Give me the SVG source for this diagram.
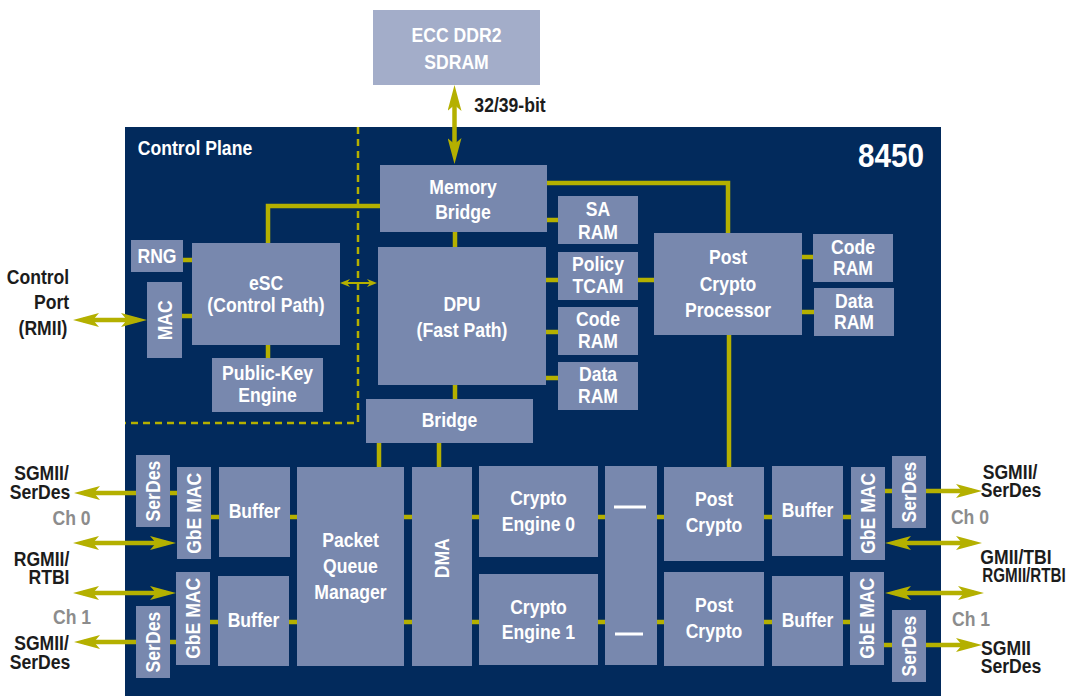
<svg xmlns="http://www.w3.org/2000/svg" width="1068" height="696" viewBox="0 0 1068 696">
<defs>
<style>
.bg{fill:#022a5c}
.b{fill:#7888ae}
.e{fill:#a3adc9}
.c{fill:none;stroke:#b4b000;stroke-width:4.5}
.a{fill:none;stroke:#b4b000;stroke-width:4.5}
.d{fill:none;stroke:#b4b000;stroke-width:2.5;stroke-dasharray:7 5}
.s{fill:none;stroke:#b4b000;stroke-width:2}
.dash{stroke:#ffffff;stroke-width:3}
text{font-family:"Liberation Sans",Arial,sans-serif;font-weight:700;font-size:20px;text-anchor:middle;transform-box:fill-box;transform-origin:center;transform:scaleX(0.88)}
.w{fill:#ffffff}
.k{fill:#1c1c1c}
.g{fill:#8c8c8c}
.v{transform:rotate(-90deg) scaleX(0.88)}
.n{transform:scaleX(0.76)}
.big{font-size:33px;transform:scaleX(0.9)}
</style>
<marker id="ah" viewBox="0 0 26 14" markerWidth="26" markerHeight="14" markerUnits="userSpaceOnUse" refX="16" refY="7" orient="auto-start-reverse">
<path d="M0,0 L26,7 L0,14 L6,7 Z" fill="#b4b000"/>
</marker>
<marker id="as" viewBox="0 0 10 8" markerWidth="10" markerHeight="8" markerUnits="userSpaceOnUse" refX="6" refY="4" orient="auto-start-reverse">
<path d="M0,0 L10,4 L0,8 L3,4 Z" fill="#b4b000"/>
</marker>
</defs>

<rect id="chip" class="bg" x="125" y="127" width="816" height="569"/>

<g id="connectors">
<path class="d" d="M358,127 V423 H125"/>
<path class="c" d="M380,206 H268 V243"/>
<path class="c" d="M268,345 V358"/>
<path class="c" d="M547,183 H728 V233"/>
<path class="c" d="M547,220 H558"/>
<path class="c" d="M455,232 V247"/>
<path class="c" d="M546,280 H558 M638,280 H654"/>
<path class="c" d="M546,332 H558"/>
<path class="c" d="M546,378 H558"/>
<path class="c" d="M802,257 H813 M802,312 H814"/>
<path class="c" d="M729,335 V467"/>
<path class="c" d="M183,260 H192 M182,316 H192"/>
<path class="c" d="M455,385 V399"/>
<path class="c" d="M379,443 V467 M439,443 V467"/>
<path class="c" d="M211,517 H219 M290,517 H297 M404,517 H412 M472,517 H479 M598,517 H605 M657,517 H664 M764,517 H772 M843,517 H851"/>
<path class="c" d="M210,622 H218 M289,622 H297 M404,622 H412 M472,622 H479 M598,622 H605 M657,622 H664 M764,622 H772 M843,622 H850"/>
<path class="c" d="M170,493 H177 M170,642 H176 M885,491 H892 M884,645 H892"/>
<path class="s" d="M344,283 H373" marker-start="url(#as)" marker-end="url(#as)"/>
<path class="a" d="M454.5,95 V154" marker-start="url(#ah)" marker-end="url(#ah)"/>
<path class="a" d="M83,320 H137" marker-start="url(#ah)" marker-end="url(#ah)"/>
<path class="a" d="M136,493 H84" marker-end="url(#ah)"/>
<path class="a" d="M83,543 H166" marker-start="url(#ah)" marker-end="url(#ah)"/>
<path class="a" d="M83,593 H166" marker-start="url(#ah)" marker-end="url(#ah)"/>
<path class="a" d="M136,642 H84" marker-end="url(#ah)"/>
<path class="a" d="M926,491 H972" marker-end="url(#ah)"/>
<path class="a" d="M895,543 H972" marker-start="url(#ah)" marker-end="url(#ah)"/>
<path class="a" d="M895,593 H974" marker-start="url(#ah)" marker-end="url(#ah)"/>
<path class="a" d="M926,645 H972" marker-end="url(#ah)"/>
</g>

<g id="labels">
<text class="k" x="510" y="112">32/39-bit</text>
<text class="w" x="195" y="155">Control Plane</text>
<text class="w big" x="891" y="167">8450</text>
<text class="k" x="38" y="284">Control</text>
<text class="k" x="51.5" y="309">Port</text>
<text class="k" x="43" y="335">(RMII)</text>
<text class="k" x="41.5" y="480">SGMII/</text>
<text class="k" x="40" y="499">SerDes</text>
<text class="g" x="71.5" y="525">Ch 0</text>
<text class="k" x="41.5" y="566">RGMII/</text>
<text class="k" x="49" y="584">RTBI</text>
<text class="g" x="72" y="624">Ch 1</text>
<text class="k" x="41.5" y="650">SGMII/</text>
<text class="k" x="40" y="669">SerDes</text>
<text class="k" x="1010" y="479">SGMII/</text>
<text class="k" x="1011" y="497">SerDes</text>
<text class="g" x="970" y="524">Ch 0</text>
<text class="k" x="1016" y="564">GMII/TBI</text>
<text class="k n" x="1024" y="582">RGMII/RTBI</text>
<text class="g" x="971" y="626">Ch 1</text>
<text class="k" x="1006" y="655">SGMII</text>
<text class="k" x="1011" y="673">SerDes</text>
</g>

<g id="ecc"><rect class="e" x="373" y="10" width="167" height="75"/><text class="w" x="456.5" y="42">ECC DDR2</text><text class="w" x="456.5" y="69">SDRAM</text></g>
<g id="membridge"><rect class="b" x="380" y="165" width="167" height="67"/><text class="w" x="463" y="194">Memory</text><text class="w" x="463" y="219">Bridge</text></g>
<g id="saram"><rect class="b" x="558" y="196" width="80" height="48"/><text class="w" x="598" y="216">SA</text><text class="w" x="598" y="239">RAM</text></g>
<g id="tcam"><rect class="b" x="558" y="252" width="80" height="48"/><text class="w" x="598" y="271">Policy</text><text class="w" x="598" y="293">TCAM</text></g>
<g id="coderam1"><rect class="b" x="558" y="307" width="80" height="48"/><text class="w" x="598" y="326">Code</text><text class="w" x="598" y="348">RAM</text></g>
<g id="dataram1"><rect class="b" x="558" y="362" width="80" height="48"/><text class="w" x="598" y="381">Data</text><text class="w" x="598" y="403">RAM</text></g>
<g id="dpu"><rect class="b" x="378" y="247" width="168" height="138"/><text class="w" x="462" y="311">DPU</text><text class="w" x="462" y="337">(Fast Path)</text></g>
<g id="pcp"><rect class="b" x="654" y="233" width="148" height="102"/><text class="w" x="728" y="264">Post</text><text class="w" x="728" y="291">Crypto</text><text class="w" x="728" y="317">Processor</text></g>
<g id="coderam2"><rect class="b" x="813" y="234" width="80" height="48"/><text class="w" x="853" y="254">Code</text><text class="w" x="853" y="275">RAM</text></g>
<g id="dataram2"><rect class="b" x="814" y="288" width="80" height="48"/><text class="w" x="854" y="308">Data</text><text class="w" x="854" y="329">RAM</text></g>
<g id="rng"><rect class="b" x="131" y="240" width="52" height="32"/><text class="w" x="157" y="263">RNG</text></g>
<g id="mac"><rect class="b" x="147" y="282" width="35" height="76"/><text class="w v" x="164.5" y="327">MAC</text></g>
<g id="esc"><rect class="b" x="192" y="243" width="148" height="102"/><text class="w" x="266" y="290">eSC</text><text class="w" x="266" y="312">(Control Path)</text></g>
<g id="pke"><rect class="b" x="212" y="358" width="111" height="54"/><text class="w" x="267.5" y="380">Public-Key</text><text class="w" x="267.5" y="402">Engine</text></g>
<g id="bridge"><rect class="b" x="366" y="399" width="167" height="44"/><text class="w" x="449.5" y="427">Bridge</text></g>

<g id="serdes-l0"><rect class="b" x="136" y="455" width="34" height="72"/><text class="w v" x="153" y="498">SerDes</text></g>
<g id="gbe-l0"><rect class="b" x="177" y="467" width="34" height="92"/><text class="w v" x="194" y="520">GbE MAC</text></g>
<g id="buf-l0"><rect class="b" x="219" y="467" width="71" height="90"/><text class="w" x="254.5" y="518">Buffer</text></g>
<g id="serdes-l1"><rect class="b" x="136" y="606" width="34" height="72"/><text class="w v" x="153" y="649">SerDes</text></g>
<g id="gbe-l1"><rect class="b" x="176" y="572" width="34" height="93"/><text class="w v" x="193" y="625">GbE MAC</text></g>
<g id="buf-l1"><rect class="b" x="218" y="576" width="71" height="90"/><text class="w" x="253.5" y="627">Buffer</text></g>
<g id="pqm"><rect class="b" x="297" y="467" width="107" height="199"/><text class="w" x="350.5" y="547">Packet</text><text class="w" x="350.5" y="573">Queue</text><text class="w" x="350.5" y="599">Manager</text></g>
<g id="dma"><rect class="b" x="412" y="467" width="60" height="199"/><text class="w v" x="442" y="565">DMA</text></g>
<g id="ce0"><rect class="b" x="479" y="466" width="119" height="91"/><text class="w" x="538.5" y="505">Crypto</text><text class="w" x="538.5" y="531">Engine 0</text></g>
<g id="ce1"><rect class="b" x="479" y="574" width="119" height="91"/><text class="w" x="538.5" y="614">Crypto</text><text class="w" x="538.5" y="639">Engine 1</text></g>
<g id="mux"><rect class="b" x="605" y="466" width="52" height="199"/><path class="dash" d="M614,507 H646 M615,634 H643"/></g>
<g id="pc0"><rect class="b" x="664" y="467" width="100" height="94"/><text class="w" x="714" y="506">Post</text><text class="w" x="714" y="532">Crypto</text></g>
<g id="pc1"><rect class="b" x="664" y="572" width="100" height="94"/><text class="w" x="714" y="612">Post</text><text class="w" x="714" y="638">Crypto</text></g>
<g id="buf-r0"><rect class="b" x="772" y="466" width="71" height="90"/><text class="w" x="807.5" y="517">Buffer</text></g>
<g id="buf-r1"><rect class="b" x="772" y="576" width="71" height="90"/><text class="w" x="807.5" y="627">Buffer</text></g>
<g id="gbe-r0"><rect class="b" x="851" y="467" width="34" height="93"/><text class="w v" x="868" y="520">GbE MAC</text></g>
<g id="gbe-r1"><rect class="b" x="850" y="572" width="34" height="93"/><text class="w v" x="867" y="625">GbE MAC</text></g>
<g id="serdes-r0"><rect class="b" x="892" y="456" width="34" height="72"/><text class="w v" x="909" y="499">SerDes</text></g>
<g id="serdes-r1"><rect class="b" x="892" y="610" width="34" height="72"/><text class="w v" x="909" y="653">SerDes</text></g>
</svg>
